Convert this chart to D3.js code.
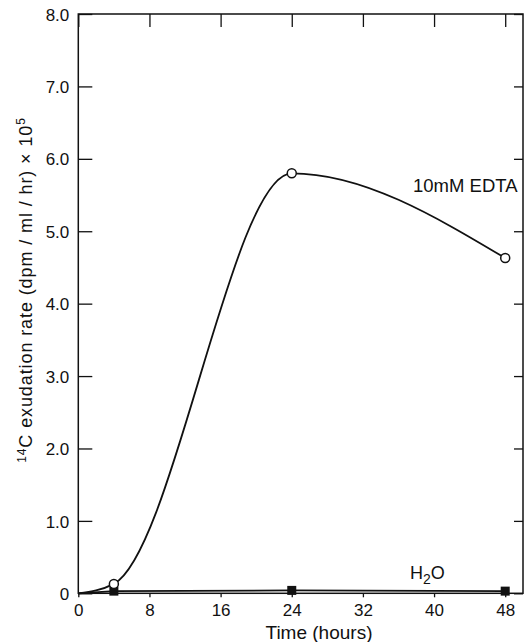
<!DOCTYPE html>
<html><head><meta charset="utf-8">
<script src="https://cdn.jsdelivr.net/npm/d3@7"></script>
<style>body{margin:0;background:#fff}svg{display:block}text{font-family:"Liberation Sans",Arial,sans-serif;fill:#111}</style>
</head><body><svg id="c" width="524" height="642"></svg>
<script>
const edtaTime = [0, 4, 24, 48];
const edtaRate = [0, 0.13, 5.8, 4.63];
const edtaMarked = [false, true, true, true];
const waterTime = [0, 4, 24, 48];
const waterRate = [0, 0.03, 0.04, 0.03];
const waterMarked = [false, true, true, true];
const xTicks = [0, 8, 16, 24, 32, 40, 48];
const yTicks = [0, 1, 2, 3, 4, 5, 6, 7, 8];
const yTickLabels = ["0", "1.0", "2.0", "3.0", "4.0", "5.0", "6.0", "7.0", "8.0"];

const svg = d3.select("#c");
const L = 78.3, R = 523, T = 14, B = 593.3;
const x = d3.scaleLinear().domain([0, 50]).range([L, R]);
const y = d3.scaleLinear().domain([0, 8]).range([B, T]);

const g = svg.append("g");
g.append("rect").attr("x", L).attr("y", T).attr("width", R - L).attr("height", B - T)
  .attr("fill", "none").attr("stroke", "#111").attr("stroke-width", 1.5);

const yl = g.append("g").attr("transform", `translate(${L},0)`)
  .call(d3.axisLeft(y).tickValues(yTicks).tickSizeInner(-14).tickSizeOuter(0).tickFormat((d, i) => yTickLabels[i]));
yl.selectAll(".tick text").attr("x", -9).attr("dy", "0.36em");
g.append("g").attr("transform", `translate(${R},0)`)
  .call(d3.axisRight(y).tickValues(yTicks).tickSizeInner(-9).tickSizeOuter(0).tickFormat(""));
const xb = g.append("g").attr("transform", `translate(0,${B})`)
  .call(d3.axisBottom(x).tickValues(xTicks).tickSizeInner(4).tickSizeOuter(0).tickFormat(d => d));
xb.selectAll(".tick text").attr("y", 0).attr("dy", 23);
g.append("g").attr("transform", `translate(0,${T})`)
  .call(d3.axisTop(x).tickValues(xTicks).tickSizeInner(-13).tickSizeOuter(0).tickFormat(""));
svg.selectAll(".domain").remove();
svg.selectAll(".tick line").attr("stroke", "#111").attr("stroke-width", 1.3);
svg.selectAll(".tick text").style("font-size", "17px").attr("fill", "#111").style("font-family", '"Liberation Sans",Arial,sans-serif');

const waterPts = waterTime.map((t, i) => [t, waterRate[i]]);
const lineW = d3.line().x(d => x(d[0])).y(d => y(d[1]));
g.append("path").datum(waterPts).attr("d", lineW).attr("fill", "none")
  .attr("stroke", "#111").attr("stroke-width", 1.8);

const edtaPts = edtaTime.map((t, i) => [t, edtaRate[i]]);
const lineE = d3.line().x(d => x(d[0])).y(d => y(d[1])).curve(d3.curveMonotoneX);
g.append("path").datum(edtaPts).attr("d", lineE).attr("fill", "none")
  .attr("stroke", "#111").attr("stroke-width", 1.8);

g.selectAll(".sq").data(waterPts.filter((d, i) => waterMarked[i])).enter().append("rect")
  .attr("x", d => x(d[0]) - 4.5).attr("y", d => y(d[1]) - 4.5).attr("width", 9).attr("height", 9)
  .attr("fill", "#111");
g.selectAll(".ci").data(edtaPts.filter((d, i) => edtaMarked[i])).enter().append("circle")
  .attr("cx", d => x(d[0])).attr("cy", d => y(d[1])).attr("r", 4.5)
  .attr("fill", "#fff").attr("stroke", "#111").attr("stroke-width", 1.5);

svg.append("text").attr("x", 413).attr("y", 192).style("font-size", "18.5px").text("10mM EDTA");
const h = svg.append("text").attr("x", 410).attr("y", 579).style("font-size", "18px");
h.append("tspan").text("H");
h.append("tspan").attr("dy", 5).style("font-size", "14px").text("2");
h.append("tspan").attr("dy", -5).text("O");

svg.append("text").attr("x", 319).attr("y", 639).attr("text-anchor", "middle")
  .style("font-size", "19px").text("Time (hours)");

const yt = svg.append("text").attr("transform", "translate(32,290) rotate(-90)")
  .attr("text-anchor", "middle").style("font-size", "18px").style("letter-spacing", "0.9px");
yt.append("tspan").attr("dy", -6).style("font-size", "12px").text("14");
yt.append("tspan").attr("dy", 6).text("C exudation rate (dpm / ml / hr) × 10");
yt.append("tspan").attr("dy", -7).style("font-size", "12px").text("5");
</script></body></html>
